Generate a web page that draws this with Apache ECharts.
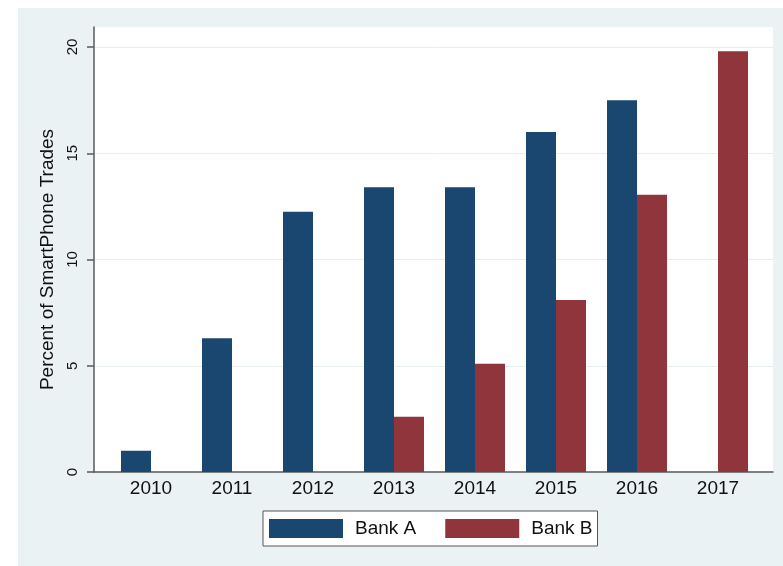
<!DOCTYPE html>
<html>
<head>
<meta charset="utf-8">
<script src="https://cdn.jsdelivr.net/npm/echarts@6/dist/echarts.min.js"></script>
<style>
  html, body { margin: 0; background: #fff; }
  #chart { position: absolute; left: 18px; top: 8px; width: 765px; height: 558px; }
</style>
</head>
<body>
<div id="chart"></div>
<script>
// ----------------------
// DATA
// ----------------------
const years = ["2010", "2011", "2012", "2013", "2014", "2015", "2016", "2017"];
const bankA = [1.0, 6.3, 12.25, 13.4, 13.4, 16.0, 17.5, null];
const bankB = [null, null, null, 2.6, 5.1, 8.1, 13.05, 19.8];
const yMin = 0;
const yMax = 20;
const yStep = 5;

const FONT = "Liberation Sans, Arial, sans-serif";
const AXIS = "#5a5a5a";

// ----------------------
// CHART
// ----------------------
const chart = echarts.init(document.getElementById("chart"));

chart.setOption({
  animation: false,
  backgroundColor: "#eaf2f3",
  grid: [
    // plot region (white frame)
    { left: 76, right: 10, top: 19, bottom: 94, show: true, backgroundColor: "#fff", borderWidth: 0 },
    // value scale, full width
    { left: 76, right: 10, top: 39, bottom: 94 },
    // bars
    { left: 92.5, width: 648, top: 39, bottom: 94 },
  ],
  xAxis: [
    {
      gridIndex: 0, type: "value", min: 0, max: 1,
      axisLine: { show: true, lineStyle: { color: AXIS, width: 1.5 } },
      axisTick: { show: false }, axisLabel: { show: false }, splitLine: { show: false },
    },
    { gridIndex: 1, type: "value", show: false },
    {
      gridIndex: 2, type: "category", data: years,
      axisLine: { show: false }, axisTick: { show: false },
      axisLabel: { fontFamily: FONT, fontSize: 19, color: "#111", margin: 7 },
    },
  ],
  yAxis: [
    {
      gridIndex: 0, type: "value", min: 0, max: 1,
      axisLine: { show: true, lineStyle: { color: AXIS, width: 1.5 } },
      axisTick: { show: false }, axisLabel: { show: false }, splitLine: { show: false },
    },
    {
      gridIndex: 1, type: "value", min: yMin, max: yMax, interval: yStep,
      axisLine: { show: false },
      axisTick: { show: true, length: 7, lineStyle: { color: AXIS, width: 1.5 } },
      axisLabel: { rotate: 90, fontFamily: FONT, fontSize: 15, color: "#111", margin: 14 },
      splitLine: { show: true, lineStyle: { color: "#e6eef0", width: 1 } },
      name: "Percent of SmartPhone Trades",
      nameLocation: "middle",
      nameRotate: 90,
      nameGap: 35,
      nameTextStyle: { fontFamily: FONT, fontSize: 19, color: "#111" },
    },
    { gridIndex: 2, type: "value", min: yMin, max: yMax, show: false },
  ],
  legend: {
    left: 245,
    top: 503,
    orient: "horizontal",
    itemWidth: 74,
    itemHeight: 19,
    itemGap: 29,
    padding: [8, 5, 8, 6],
    backgroundColor: "#fff",
    borderColor: "#555",
    borderWidth: 1,
    borderRadius: 0,
    icon: "rect",
    textStyle: { fontFamily: FONT, fontSize: 19, color: "#111", padding: [0, 0, 0, 7] },
    data: ["Bank A", "Bank B"],
  },
  series: [
    {
      name: "Bank A", type: "bar", xAxisIndex: 2, yAxisIndex: 2,
      data: bankA, barWidth: 30, barGap: "0%",
      itemStyle: { color: "#1a476f" },
    },
    {
      name: "Bank B", type: "bar", xAxisIndex: 2, yAxisIndex: 2,
      data: bankB, barWidth: 30, barGap: "0%",
      itemStyle: { color: "#90353b" },
    },
  ],
});
</script>
</body>
</html>
